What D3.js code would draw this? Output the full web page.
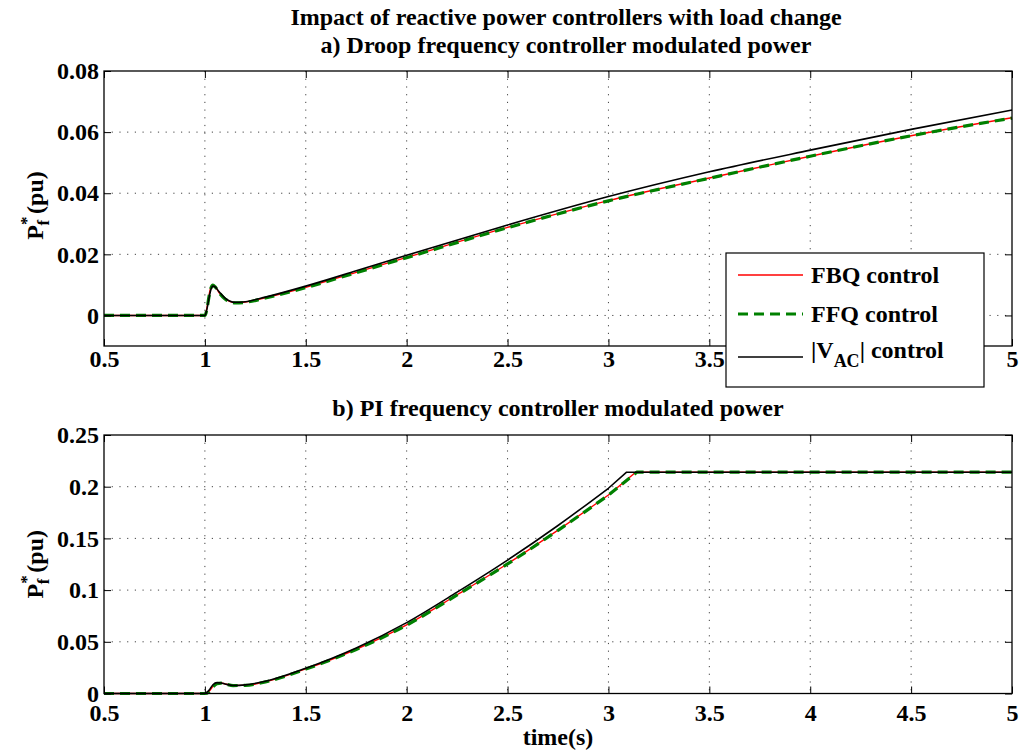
<!DOCTYPE html>
<html>
<head>
<meta charset="utf-8">
<script src="https://cdn.jsdelivr.net/npm/d3@7/dist/d3.min.js"></script>
<style>
  html, body { margin: 0; padding: 0; background: #fff; }
  svg { display: block; font-family: "Liberation Serif", "Times New Roman", serif; font-weight: bold; }
</style>
</head>
<body>
<svg id="chart" width="1019" height="751"></svg>
<script>
// ---- Data -------------------------------------------------------------
// a) Droop frequency controller modulated power
const droopTime = [0.5, 1.0, 1.01, 1.02, 1.03, 1.04, 1.05, 1.07, 1.1, 1.15, 1.2, 1.3, 1.5, 1.75, 2.0, 2.5, 3.0, 3.5, 4.0, 4.5, 5.0];
const droopFBQ  = [0, 0, 0.0025, 0.0065, 0.0093, 0.0101, 0.0095, 0.0075, 0.0055, 0.0042, 0.0044, 0.0058, 0.0092, 0.0141, 0.0190, 0.0288, 0.0376, 0.0450, 0.0521, 0.0588, 0.0647];
const droopFFQ  = [0, 0, 0.0020, 0.0060, 0.0090, 0.0099, 0.0094, 0.0075, 0.0054, 0.0041, 0.0043, 0.0057, 0.0091, 0.0140, 0.0189, 0.0287, 0.0375, 0.0449, 0.0521, 0.0588, 0.0646];
const droopVAC  = [0, 0, 0.0020, 0.0055, 0.0085, 0.0096, 0.0094, 0.0078, 0.0057, 0.0043, 0.0045, 0.0060, 0.0096, 0.0146, 0.0197, 0.0296, 0.0389, 0.0470, 0.0541, 0.0609, 0.0672];

// b) PI frequency controller modulated power (ramp part, before the limiter)
const piTime    = [0.5, 1.0, 1.02, 1.04, 1.06, 1.08, 1.1, 1.14, 1.2, 1.3, 1.5, 1.75, 2.0, 2.25, 2.5, 2.75, 3.0];
const piFBQ     = [0, 0, 0.0020, 0.0070, 0.0098, 0.0101, 0.0093, 0.0078, 0.0079, 0.0113, 0.0238, 0.0428, 0.0663, 0.0955, 0.1255, 0.1580, 0.1920];
const piFFQ     = [0, 0, 0.0015, 0.0065, 0.0096, 0.0100, 0.0093, 0.0077, 0.0078, 0.0112, 0.0236, 0.0426, 0.0661, 0.0953, 0.1253, 0.1578, 0.1918];
const piVAC     = [0, 0, 0.0030, 0.0085, 0.0105, 0.0102, 0.0092, 0.0078, 0.0083, 0.0118, 0.0244, 0.0440, 0.0685, 0.0980, 0.1290, 0.1625, 0.1985];
// limiter: time at which each output saturates, and the saturation level
const piLimitTime = { FBQ: 3.135, FFQ: 3.14, VAC: 3.09 };
const piLimit = 0.214;

const xTicks = [0.5, 1, 1.5, 2, 2.5, 3, 3.5, 4, 4.5, 5];
const droopYTicks = [0, 0.02, 0.04, 0.06, 0.08];
const piYTicks = [0, 0.05, 0.1, 0.15, 0.2, 0.25];
const seriesNames = ["FBQ control", "FFQ control", "|V_AC| control"];

// ---- Styling -----------------------------------------------------------
const styles = [
  { color: "#ff0000", width: 1.4, dash: null },
  { color: "#008000", width: 3.2, dash: "10,6" },
  { color: "#000000", width: 1.6, dash: null }
];
const FS = 24;

const svg = d3.select("#chart");

function panel(cfg) {
  const x = d3.scaleLinear().domain([0.5, 5]).range([cfg.left, cfg.right]);
  const y = d3.scaleLinear().domain(cfg.yDomain).range([cfg.bottom, cfg.top]);
  const g = svg.append("g");

  // dotted grid
  const grid = g.append("g").attr("stroke", "#444").attr("stroke-width", 1).attr("stroke-dasharray", "1.2,6.5");
  xTicks.filter(t => t > 0.5 && t < 5).forEach(t => {
    grid.append("line").attr("x1", x(t)).attr("x2", x(t)).attr("y1", cfg.top).attr("y2", cfg.bottom);
  });
  cfg.yTicks.filter(t => t > cfg.yDomain[0] && t < cfg.yDomain[1]).forEach(t => {
    grid.append("line").attr("x1", cfg.left).attr("x2", cfg.right).attr("y1", y(t)).attr("y2", y(t));
  });

  // traces: smooth through the samples, then a straight held segment if saturated
  const line = d3.line().x(d => x(d[0])).y(d => y(d[1])).curve(d3.curveMonotoneX);
  cfg.series.forEach((s, i) => {
    let d = line(s.pts);
    if (s.hold) s.hold.forEach(h => { d += `L${x(h[0])},${y(h[1])}`; });
    const p = g.append("path").attr("d", d)
      .attr("fill", "none").attr("stroke", styles[i].color)
      .attr("stroke-width", styles[i].width).attr("stroke-linejoin", "round");
    if (styles[i].dash) p.attr("stroke-dasharray", styles[i].dash);
  });

  // axes with inward ticks on all four sides
  const fmt = d => String(+d.toFixed(3));
  const ax = g.append("g");
  ax.append("g").attr("transform", `translate(0,${cfg.bottom})`)
    .call(d3.axisBottom(x).tickValues(xTicks).tickSizeInner(-7).tickSizeOuter(0).tickPadding(cfg.xPad).tickFormat(fmt));
  ax.append("g").attr("transform", `translate(0,${cfg.top})`)
    .call(d3.axisTop(x).tickValues(xTicks).tickSizeInner(-7).tickSizeOuter(0).tickFormat(""));
  ax.append("g").attr("transform", `translate(${cfg.left},0)`)
    .call(d3.axisLeft(y).tickValues(cfg.yTicks).tickSizeInner(-7).tickSizeOuter(0).tickPadding(5).tickFormat(fmt));
  ax.append("g").attr("transform", `translate(${cfg.right},0)`)
    .call(d3.axisRight(y).tickValues(cfg.yTicks).tickSizeInner(-7).tickSizeOuter(0).tickFormat(""));
  ax.selectAll(":scope > g").attr("font-family", null).attr("font-size", FS);
  ax.selectAll(".domain").remove();
  ax.selectAll(".tick line").attr("stroke", "#000").attr("stroke-width", 1);
  ax.selectAll(".tick text").attr("fill", "#000");

  g.append("rect").attr("x", cfg.left).attr("y", cfg.top)
    .attr("width", cfg.right - cfg.left).attr("height", cfg.bottom - cfg.top)
    .attr("fill", "none").attr("stroke", "#000").attr("stroke-width", 1.3);

  // y label: P*_f (pu)
  const cy = (cfg.top + cfg.bottom) / 2 + cfg.labelShift;
  const lab = g.append("text").attr("transform", `translate(43,${cy}) rotate(-90)`)
    .attr("text-anchor", "middle").attr("font-size", FS);
  lab.append("tspan").text("P");
  lab.append("tspan").attr("font-size", 17).attr("dy", -11).text("*");
  lab.append("tspan").attr("font-size", 17).attr("dx", -9).attr("dy", 17).text("f");
  lab.append("tspan").attr("dy", -6).text(" (pu)");

  return { x, y, g };
}

const zip = (t, v) => t.map((d, i) => [d, v[i]]);

// titles
svg.append("text").attr("x", 566).attr("y", 25).attr("text-anchor", "middle").attr("font-size", FS)
  .text("Impact of reactive power controllers with load change");
svg.append("text").attr("x", 566).attr("y", 53).attr("text-anchor", "middle").attr("font-size", FS)
  .text("a) Droop frequency controller modulated power");
svg.append("text").attr("x", 558).attr("y", 416).attr("text-anchor", "middle").attr("font-size", FS)
  .text("b) PI frequency controller modulated power");

const droopPanel = panel({
  left: 104, right: 1012, top: 71, bottom: 346, xPad: 4, labelShift: -3,
  yDomain: [-0.01, 0.08], yTicks: droopYTicks,
  series: [
    { pts: zip(droopTime, droopFBQ) },
    { pts: zip(droopTime, droopFFQ) },
    { pts: zip(droopTime, droopVAC) }
  ]
});

const piPanel = panel({
  left: 104, right: 1012, top: 435, bottom: 693.5, xPad: 10, labelShift: 0,
  yDomain: [0, 0.25], yTicks: piYTicks,
  series: [
    { pts: zip(piTime, piFBQ), hold: [[piLimitTime.FBQ, piLimit], [5, piLimit]] },
    { pts: zip(piTime, piFFQ), hold: [[piLimitTime.FFQ, piLimit], [5, piLimit]] },
    { pts: zip(piTime, piVAC), hold: [[piLimitTime.VAC, piLimit], [5, piLimit]] }
  ]
});

svg.append("text").attr("x", 558).attr("y", 745).attr("text-anchor", "middle").attr("font-size", FS)
  .text("time(s)");

// legend
const leg = svg.append("g");
leg.append("rect").attr("x", 726).attr("y", 253).attr("width", 258).attr("height", 134)
  .attr("fill", "#fff").attr("stroke", "#000").attr("stroke-width", 1.2);
const legY = [275, 314, 357];
seriesNames.forEach((name, i) => {
  const l = leg.append("line").attr("x1", 738).attr("x2", 803).attr("y1", legY[i]).attr("y2", legY[i])
    .attr("stroke", styles[i].color).attr("stroke-width", styles[i].width);
  if (styles[i].dash) l.attr("stroke-dasharray", styles[i].dash);
  const t = leg.append("text").attr("x", 811).attr("font-size", FS);
  if (name.includes("_")) {
    t.attr("y", legY[i] + 1);
    t.append("tspan").text("|V");
    t.append("tspan").attr("font-size", 18).attr("dy", 9).text("AC");
    t.append("tspan").attr("dy", -9).text("| control");
  } else {
    t.attr("y", legY[i] + 8).text(name);
  }
});
</script>
</body>
</html>
